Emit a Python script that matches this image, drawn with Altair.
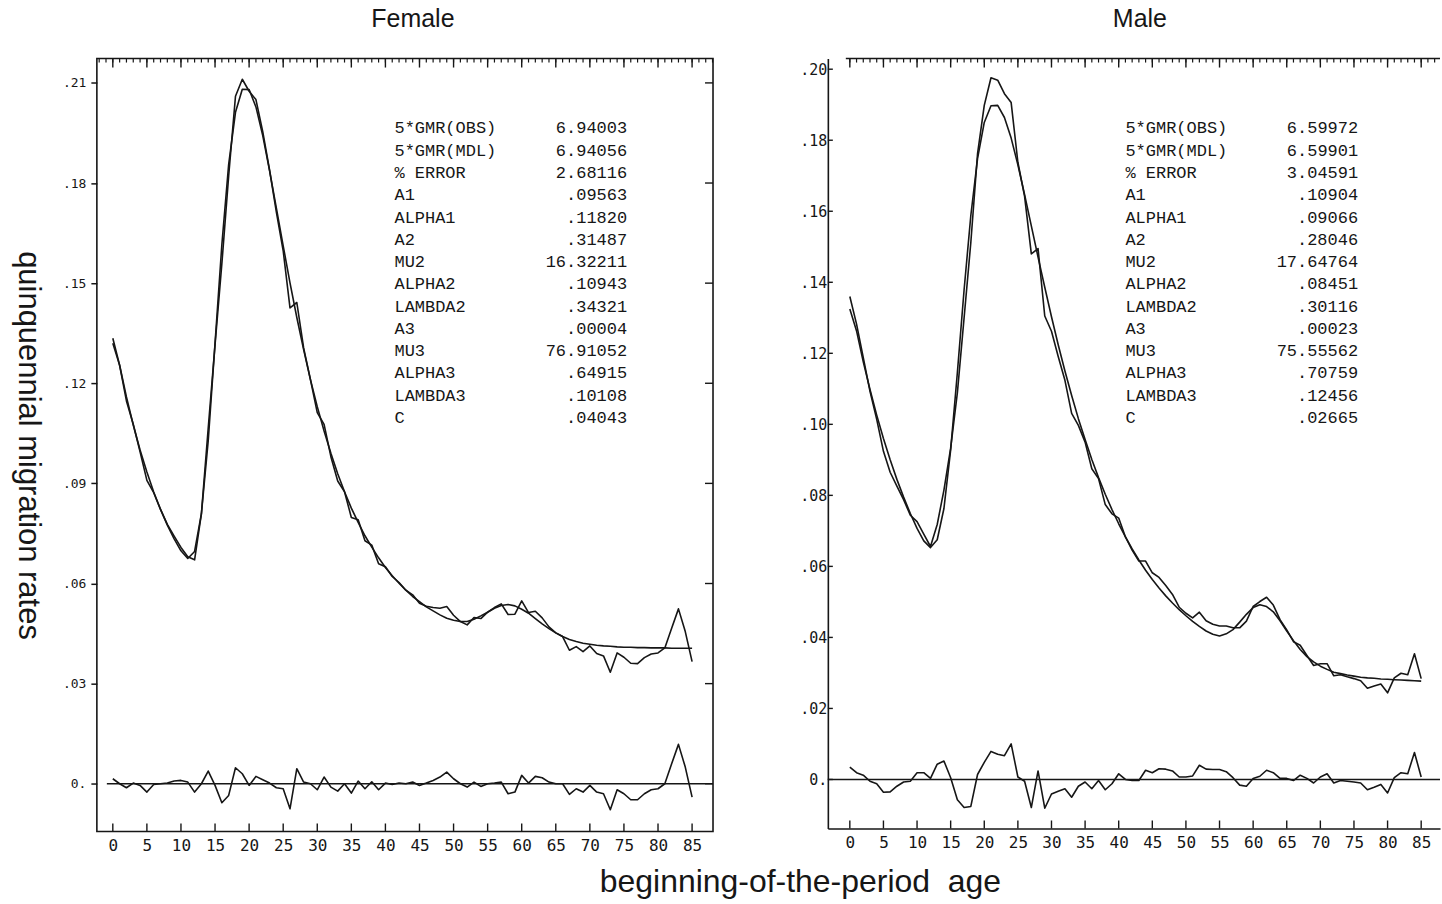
import altair as alt
import pandas as pd

# ---------------- data ----------------
ages = list(range(86))

female_model = [0.1320, 0.1254, 0.1159, 0.1075, 0.1000, 0.0934, 0.0874, 0.0822, 0.0775, 0.0734,
                0.0698, 0.0675, 0.0696, 0.0809, 0.1028, 0.1320, 0.1615, 0.1856, 0.2012, 0.2081,
                0.2080, 0.2028, 0.1942, 0.1837, 0.1725, 0.1612, 0.1501, 0.1397, 0.1301, 0.1211,
                0.1130, 0.1057, 0.0990, 0.0929, 0.0875, 0.0826, 0.0783, 0.0743, 0.0709, 0.0677,
                0.0648, 0.0623, 0.0601, 0.0580, 0.0561, 0.0546, 0.0530, 0.0518, 0.0506, 0.0496,
                0.0490, 0.0486, 0.0486, 0.0493, 0.0503, 0.0514, 0.0526, 0.0534, 0.0537, 0.0533,
                0.0523, 0.0511, 0.0495, 0.0479, 0.0465, 0.0452, 0.0441, 0.0432, 0.0426, 0.0421,
                0.0418, 0.0415, 0.0413, 0.0412, 0.0410, 0.0409, 0.0409, 0.0408, 0.0408, 0.0407,
                0.0407, 0.0407, 0.0406, 0.0406, 0.0406, 0.0406]

female_obs = [0.1335, 0.1254, 0.1147, 0.1077, 0.0995, 0.0909, 0.0872, 0.0822, 0.0777, 0.0742,
              0.0708, 0.0680, 0.0671, 0.0809, 0.1066, 0.1315, 0.1558, 0.1821, 0.2060, 0.2111,
              0.2075, 0.2050, 0.1954, 0.1839, 0.1713, 0.1597, 0.1426, 0.1442, 0.1306, 0.1211,
              0.1112, 0.1077, 0.0980, 0.0907, 0.0875, 0.0798, 0.0791, 0.0728, 0.0715, 0.0659,
              0.0650, 0.0621, 0.0603, 0.0580, 0.0566, 0.0541, 0.0532, 0.0528, 0.0526, 0.0531,
              0.0505, 0.0486, 0.0476, 0.0498, 0.0495, 0.0514, 0.0528, 0.0539, 0.0507, 0.0508,
              0.0548, 0.0513, 0.0517, 0.0497, 0.0470, 0.0452, 0.0441, 0.0400, 0.0411, 0.0396,
              0.0413, 0.0390, 0.0383, 0.0334, 0.0392, 0.0379, 0.0361, 0.0360, 0.0378, 0.0389,
              0.0392, 0.0407, 0.0466, 0.0524, 0.0456, 0.0366]

female_resid = [0.0015, 0.0000, -0.0012, 0.0002, -0.0005, -0.0025, -0.0002, 0.0000, 0.0002, 0.0008,
                0.0010, 0.0005, -0.0025, 0.0000, 0.0038, -0.0005, -0.0057, -0.0035, 0.0048, 0.0030,
                -0.0005, 0.0022, 0.0012, 0.0002, -0.0012, -0.0015, -0.0075, 0.0045, 0.0005, 0.0000,
                -0.0018, 0.0020, -0.0010, -0.0022, 0.0000, -0.0028, 0.0008, -0.0015, 0.0006, -0.0018,
                0.0002, -0.0002, 0.0002, 0.0000, 0.0005, -0.0005, 0.0002, 0.0010, 0.0020, 0.0035,
                0.0015, 0.0000, -0.0010, 0.0005, -0.0008, 0.0000, 0.0002, 0.0005, -0.0030, -0.0025,
                0.0025, 0.0002, 0.0022, 0.0018, 0.0005, 0.0000, 0.0000, -0.0032, -0.0015, -0.0025,
                -0.0005, -0.0025, -0.0030, -0.0078, -0.0018, -0.0030, -0.0048, -0.0048, -0.0030, -0.0018,
                -0.0015, 0.0000, 0.0060, 0.0118, 0.0050, -0.0040]

male_model = [0.1325, 0.1263, 0.1176, 0.1098, 0.1026, 0.0960, 0.0900, 0.0845, 0.0795, 0.0749,
              0.0707, 0.0672, 0.0653, 0.0675, 0.0763, 0.0928, 0.1146, 0.1379, 0.1588, 0.1748,
              0.1850, 0.1897, 0.1898, 0.1864, 0.1806, 0.1731, 0.1647, 0.1559, 0.1471, 0.1386,
              0.1303, 0.1224, 0.1150, 0.1081, 0.1016, 0.0957, 0.0901, 0.0850, 0.0803, 0.0760,
              0.0720, 0.0683, 0.0649, 0.0618, 0.0589, 0.0563, 0.0539, 0.0517, 0.0497, 0.0478,
              0.0461, 0.0445, 0.0431, 0.0418, 0.0409, 0.0404, 0.0410, 0.0422, 0.0443, 0.0465,
              0.0484, 0.0492, 0.0487, 0.0472, 0.0447, 0.0418, 0.0391, 0.0366, 0.0346, 0.0331,
              0.0319, 0.0310, 0.0302, 0.0298, 0.0294, 0.0291, 0.0288, 0.0286, 0.0285, 0.0283,
              0.0282, 0.0281, 0.0280, 0.0279, 0.0278, 0.0277]

male_obs = [0.1360, 0.1282, 0.1188, 0.1093, 0.1014, 0.0924, 0.0865, 0.0826, 0.0788, 0.0744,
            0.0726, 0.0691, 0.0656, 0.0718, 0.0815, 0.0933, 0.1089, 0.1300, 0.1512, 0.1762,
            0.1898, 0.1976, 0.1969, 0.1931, 0.1906, 0.1738, 0.1642, 0.1480, 0.1495, 0.1305,
            0.1262, 0.1191, 0.1124, 0.1031, 0.0997, 0.0950, 0.0875, 0.0847, 0.0774, 0.0748,
            0.0736, 0.0683, 0.0646, 0.0615, 0.0615, 0.0582, 0.0569, 0.0546, 0.0521, 0.0485,
            0.0468, 0.0455, 0.0471, 0.0447, 0.0437, 0.0432, 0.0432, 0.0427, 0.0427, 0.0446,
            0.0487, 0.0501, 0.0513, 0.0491, 0.0450, 0.0421, 0.0388, 0.0378, 0.0349, 0.0321,
            0.0326, 0.0326, 0.0292, 0.0295, 0.0289, 0.0284, 0.0278, 0.0257, 0.0263, 0.0269,
            0.0244, 0.0286, 0.0299, 0.0295, 0.0354, 0.0284]

male_resid = [0.0035, 0.0019, 0.0012, -0.0005, -0.0012, -0.0036, -0.0035, -0.0019, -0.0007, -0.0005,
              0.0019, 0.0019, 0.0003, 0.0043, 0.0052, 0.0005, -0.0057, -0.0079, -0.0076, 0.0014,
              0.0048, 0.0079, 0.0071, 0.0067, 0.0100, 0.0007, -0.0005, -0.0079, 0.0024, -0.0081,
              -0.0041, -0.0033, -0.0026, -0.0050, -0.0019, -0.0007, -0.0026, -0.0003, -0.0029, -0.0012,
              0.0016, 0.0000, -0.0003, -0.0003, 0.0026, 0.0019, 0.0030, 0.0029, 0.0024, 0.0007,
              0.0007, 0.0010, 0.0040, 0.0029, 0.0028, 0.0028, 0.0022, 0.0005, -0.0016, -0.0019,
              0.0003, 0.0009, 0.0026, 0.0019, 0.0003, 0.0003, -0.0003, 0.0012, 0.0003, -0.0010,
              0.0007, 0.0016, -0.0010, -0.0003, -0.0005, -0.0007, -0.0010, -0.0029, -0.0022, -0.0014,
              -0.0038, 0.0005, 0.0019, 0.0016, 0.0076, 0.0007]

param_names = ["5*GMR(OBS)", "5*GMR(MDL)", "% ERROR", "A1", "ALPHA1", "A2", "MU2",
               "ALPHA2", "LAMBDA2", "A3", "MU3", "ALPHA3", "LAMBDA3", "C"]
female_params = ["6.94003", "6.94056", "2.68116", ".09563", ".11820", ".31487", "16.32211",
                 ".10943", ".34321", ".00004", "76.91052", ".64915", ".10108", ".04043"]
male_params = ["6.59972", "6.59901", "3.04591", ".10904", ".09066", ".28046", "17.64764",
               ".08451", ".30116", ".00023", "75.55562", ".70759", ".12456", ".02665"]

x_ticks = [0, 5, 10, 15, 20, 25, 30, 35, 40, 45, 50, 55, 60, 65, 70, 75, 80, 85]
female_y_ticks = [0.0, 0.03, 0.06, 0.09, 0.12, 0.15, 0.18, 0.21]
male_y_ticks = [0.0, 0.02, 0.04, 0.06, 0.08, 0.10, 0.12, 0.14, 0.16, 0.18, 0.20]
female_ruler = list(range(-2, 89))
male_ruler = list(range(0, 88))

# ---------------- styling ----------------
INK = "#161616"
TICK_FONT = "DejaVu Sans Mono"
TEXT_FONT = "Liberation Mono"
TITLE_FONT = "Liberation Sans"
LABEL_EXPR = "datum.value == 0 ? '0.' : replace(format(datum.value, '.2f'), '0.', '.')"


def one(**kw):
    return pd.DataFrame({k: [v] for k, v in kw.items()})


def panel(kind, title, model, obs, resid, params, xdom, ydom, yticks, ruler,
          width, height, title_dx):
    df = pd.DataFrame({
        "age": ages * 3,
        "rate": list(obs) + list(model) + list(resid),
        "series": ["observed"] * len(ages) + ["model"] * len(ages) + ["residual"] * len(ages),
    })
    xs = alt.Scale(domain=xdom, nice=False, zero=False)
    ys = alt.Scale(domain=ydom, nice=False, zero=False)

    xaxis = alt.Axis(values=x_ticks, ticks=False, grid=False,
                     domain=(kind == "male"), domainColor=INK, domainWidth=1.6,
                     labelFont=TICK_FONT, labelFontSize=16, labelColor=INK,
                     labelPadding=6, labelFlush=False, title=None)
    if kind == "female":
        yaxis = alt.Axis(values=yticks, labelExpr=LABEL_EXPR, grid=False, domain=False,
                         tickSize=6, tickColor=INK, tickWidth=1.5,
                         labelFont=TICK_FONT, labelFontSize=13, labelColor=INK,
                         labelPadding=5, labelFlush=False,
                         title="quinquennial migration rates", titleAngle=90,
                         titleFont=TITLE_FONT, titleFontSize=31, titleFontWeight="normal",
                         titleColor=INK, titlePadding=51)
    else:
        yaxis = alt.Axis(values=yticks, labelExpr=LABEL_EXPR, grid=False, ticks=False,
                         domain=True, domainColor=INK, domainWidth=1.6,
                         labelFont=TICK_FONT, labelFontSize=15, labelColor=INK,
                         labelPadding=1, labelFlush=False, title=None)

    def X(field):
        return alt.X(field, scale=xs, axis=xaxis)

    def Y(field):
        return alt.Y(field, scale=ys, axis=yaxis)

    lines = alt.Chart(df).mark_line(color=INK, strokeWidth=1.6, strokeJoin="round").encode(
        x=X("age:Q"), y=Y("rate:Q"), detail="series:N")

    rdf = pd.DataFrame({"a": ruler})
    minor = alt.Chart(rdf).mark_rule(color=INK, strokeWidth=1.2).encode(
        x=X("a:Q"), y=alt.value(0), y2=alt.value(4))
    major = alt.Chart(pd.DataFrame({"a": [a for a in ruler if a % 5 == 0]})).mark_rule(
        color=INK, strokeWidth=1.4).encode(x=X("a:Q"), y=alt.value(0), y2=alt.value(9))
    bottom = alt.Chart(pd.DataFrame({"a": x_ticks})).mark_rule(color=INK, strokeWidth=1.4).encode(
        x=X("a:Q"), y=alt.value(height), y2=alt.value(height - 8))

    ydf = pd.DataFrame({"v": yticks})
    if kind == "female":
        side = alt.Chart(ydf).mark_rule(color=INK, strokeWidth=1.4).encode(
            y=Y("v:Q"), x=alt.value(width - 8), x2=alt.value(width))
        zero = alt.Chart(one(z=0.0)).mark_rule(color=INK, strokeWidth=1.5).encode(
            y=Y("z:Q"), x=alt.value(10), x2=alt.value(width))
        layers = [lines, minor, major, bottom, side, zero]
    else:
        side = alt.Chart(ydf).mark_rule(color=INK, strokeWidth=1.4).encode(
            y=Y("v:Q"), x=alt.value(0), x2=alt.value(5))
        zero = alt.Chart(one(z=0.0)).mark_rule(color=INK, strokeWidth=1.5).encode(
            y=Y("z:Q"), x=alt.value(0), x2=alt.value(width))
        topline = alt.Chart(one(z=0.0)).mark_rule(color=INK, strokeWidth=1.6).encode(
            y=alt.value(0), x=alt.value(18), x2=alt.value(width))
        layers = [lines, minor, major, bottom, side, zero, topline]

    tdf = one(names="\n".join(param_names), vals="\n".join(params))
    names = alt.Chart(tdf).mark_text(
        align="left", baseline="top", lineBreak="\n", lineHeight=22.3,
        font=TEXT_FONT, fontSize=17, color=INK).encode(
        x=alt.value(298), y=alt.value(62), text="names:N")
    vals = alt.Chart(tdf).mark_text(
        align="right", baseline="top", lineBreak="\n", lineHeight=22.3,
        font=TEXT_FONT, fontSize=17, color=INK).encode(
        x=alt.value(531), y=alt.value(62), text="vals:N")
    layers += [names, vals]

    props = dict(
        width=width, height=height,
        title=alt.TitleParams(title, font=TITLE_FONT, fontSize=25, fontWeight="normal",
                              color=INK, anchor="middle", frame="group",
                              baseline="alphabetic", offset=6, dx=title_dx),
    )
    if kind == "female":
        props["view"] = alt.ViewBackground(stroke=INK, strokeWidth=1.6)
    else:
        props["view"] = alt.ViewBackground(stroke="transparent")
    return alt.layer(*layers).properties(**props)


female = panel("female", "Female", female_model, female_obs, female_resid, female_params,
               [-2.34, 88.07], [-0.0143, 0.2173], female_y_ticks, female_ruler,
               617, 774, 8)
male = panel("male", "Male", male_model, male_obs, male_resid, male_params,
             [-3.27, 87.8], [-0.0138, 0.2030], male_y_ticks, male_ruler,
             613, 771, 6)

chart = alt.hconcat(
    female, male, spacing=115, bounds="flush",
    padding={"left": 11, "top": 5, "right": 0, "bottom": 2},
    background="white",
    title=alt.TitleParams("beginning-of-the-period\u00a0\u00a0age", orient="bottom",
                          anchor="middle", font=TITLE_FONT, fontSize=32,
                          fontWeight="normal", color=INK, offset=13, dx=74),
).configure_view(stroke="transparent")

chart.save("out.html", embed_options={"renderer": "svg", "actions": False})
